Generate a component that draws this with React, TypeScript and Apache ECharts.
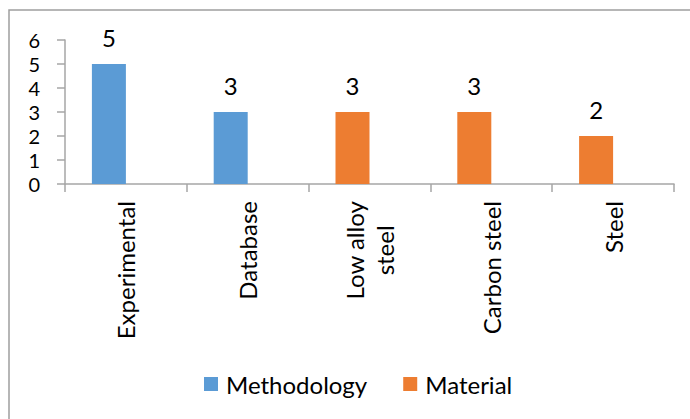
import React, { useEffect, useRef } from "react";
import * as echarts from "echarts";

const categories = ["Experimental", "Database", "Low alloy steel", "Carbon steel", "Steel"];
const methodologyValues: (number | null)[] = [5, 3, null, null, null];
const materialValues: (number | null)[] = [null, null, 3, 3, 2];
const yTicks = { min: 0, max: 6, interval: 1 };

const FONT = "Lato";
const FS = 24;

function wrapLabel(s: string): string {
  if (s.length > 12 && s.includes(" ")) {
    const i = s.lastIndexOf(" ");
    return `{c|${s.slice(0, i)}}\n{c|${s.slice(i + 1)}}`;
  }
  return `{c|${s}}`;
}

export default function App() {
  const ref = useRef<HTMLDivElement>(null);
  useEffect(() => {
    if (!ref.current) return;
    const chart = echarts.init(ref.current, null, { renderer: "svg" });
    const axisColor = "#a6a6a6";
    const labelCommon = {
      show: true,
      position: "top" as const,
      distance: 15,
      color: "#000",
      fontFamily: FONT,
      fontSize: FS,
    };
    chart.setOption({
      animation: false,
      backgroundColor: "#fff",
      textStyle: { fontFamily: FONT },
      graphic: [
        {
          type: "rect",
          shape: { x: 9, y: 10, width: 800, height: 600 },
          style: { fill: "none", stroke: "#9e9e9e", lineWidth: 1.5 },
          silent: true,
        },
      ],
      grid: { left: 65, right: 16, top: 40, bottom: 235, containLabel: false },
      legend: {
        data: ["Methodology", "Material"],
        left: 204,
        top: 372,
        padding: 0,
        itemWidth: 14,
        itemHeight: 14,
        itemGap: 36,
        icon: "rect",
        textStyle: {
          fontFamily: FONT,
          fontSize: FS,
          color: "#000",
          padding: [0, 0, 0, 3],
        },
      },
      xAxis: {
        type: "category",
        data: categories,
        axisLine: { lineStyle: { color: axisColor, width: 1.5 } },
        axisTick: { show: true, length: 8, alignWithLabel: false, lineStyle: { color: axisColor, width: 1.5 } },
        axisLabel: {
          rotate: 90,
          margin: 17,
          interval: 0,
          color: "#000",
          fontFamily: FONT,
          fontSize: FS,
          formatter: (v: string) => wrapLabel(v),
          rich: {
            c: { align: "center", fontFamily: FONT, fontSize: FS, color: "#000", lineHeight: 30 },
          },
        },
      },
      yAxis: {
        type: "value",
        min: yTicks.min,
        max: yTicks.max,
        interval: yTicks.interval,
        splitLine: { show: false },
        axisLine: { show: true, lineStyle: { color: axisColor, width: 1.5 } },
        axisTick: { show: true, length: 8, lineStyle: { color: axisColor, width: 1.5 } },
        axisLabel: { margin: 25, color: "#000", fontFamily: FONT, fontSize: 20, lineHeight: 20 },
      },
      series: [
        {
          name: "Methodology",
          type: "bar",
          stack: "a",
          data: methodologyValues,
          barWidth: 34,
          barGap: "0%",
          itemStyle: { color: "#5B9BD5" },
          label: labelCommon,
        },
        {
          name: "Material",
          type: "bar",
          stack: "a",
          data: materialValues,
          barWidth: 34,
          barGap: "0%",
          itemStyle: { color: "#ED7D31" },
          label: labelCommon,
        },
        {
          name: "_spacer",
          type: "bar",
          stack: "b",
          data: categories.map(() => null),
          barWidth: 34,
          barGap: "0%",
          silent: true,
        },
      ],
    });
    return () => chart.dispose();
  }, []);
  return (
    <div
      ref={ref}
      style={{ position: "fixed", left: 0, top: 0, width: 690, height: 419 }}
    />
  );
}
